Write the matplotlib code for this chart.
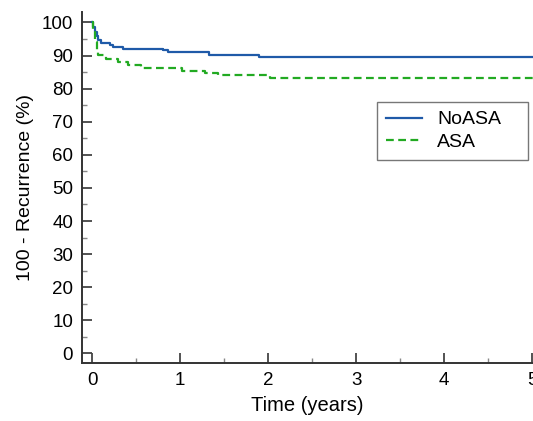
import numpy as np
import matplotlib
matplotlib.use("Agg")
import matplotlib.pyplot as plt
from matplotlib.ticker import MultipleLocator

plt.rcParams['font.family'] = ['Liberation Sans', 'DejaVu Sans']

# Kaplan-Meier style step data (time in years, 100 - recurrence %)
t_noasa = [0, 0.01, 0.03, 0.05, 0.07, 0.10, 0.20, 0.24, 0.35, 0.80, 0.86, 1.33, 1.90, 5.2]
y_noasa = [100, 98.5, 97, 95.8, 94.7, 93.7, 93.1, 92.6, 92.1, 91.6, 91.0, 90.3, 89.7, 89.7]

t_asa = [0, 0.01, 0.03, 0.05, 0.07, 0.16, 0.29, 0.41, 0.56, 1.02, 1.28, 1.43, 2.02, 5.2]
y_asa = [100, 97, 94, 91.5, 90.1, 89.1, 88.1, 87.1, 86.2, 85.3, 84.7, 84.1, 83.2, 83.2]

fig = plt.figure(figsize=(5.33, 4.21), dpi=100)
ax = fig.add_axes([0.153, 0.137, 0.847, 0.834])

ax.step(t_noasa, y_noasa, where='post', color='#1f5aa8', lw=1.6, label='NoASA')
ax.step(t_asa, y_asa, where='post', color='#22aa22', lw=1.6, ls=(0, (3.5, 2)), label='ASA')

ax.set_xlim(-0.12, 5.01)
ax.set_ylim(-3, 103.1)
ax.xaxis.set_major_locator(MultipleLocator(1))
ax.xaxis.set_minor_locator(MultipleLocator(0.5))
ax.yaxis.set_major_locator(MultipleLocator(10))
ax.yaxis.set_minor_locator(MultipleLocator(5))

ax.spines['top'].set_visible(False)
ax.spines['right'].set_visible(False)
for s in ['left', 'bottom']:
    ax.spines[s].set_linewidth(1.4)
    ax.spines[s].set_color('#333333')

ax.tick_params(which='major', direction='in', length=7.5, width=1.3, color='#444444',
               labelsize=13.5, pad=6)
ax.tick_params(which='minor', direction='in', length=3.5, width=1.0, color='#888888')

ax.set_xlabel('Time (years)', fontsize=14.5, labelpad=5)
ax.set_ylabel('100 - Recurrence (%)', fontsize=14, labelpad=6)

leg = ax.legend(loc='upper left', bbox_to_anchor=(0.654, 0.582, 0.335, 0.162),
                mode='expand', fontsize=14,
                frameon=True, fancybox=False, edgecolor='#555555',
                handlelength=1.85, handletextpad=0.8, borderpad=0.45,
                labelspacing=0.25, borderaxespad=0)
leg.get_frame().set_linewidth(1.0)

fig.savefig('out.png', dpi=100)
